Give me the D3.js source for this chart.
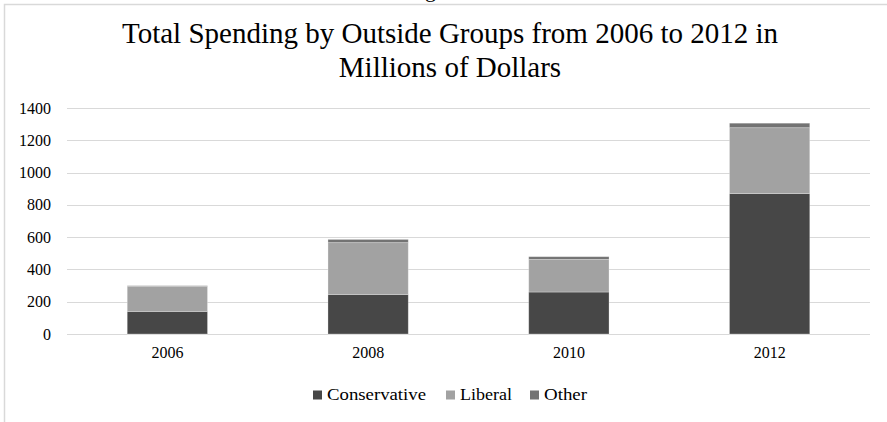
<!DOCTYPE html>
<html>
<head>
<meta charset="utf-8">
<script src="https://cdn.jsdelivr.net/npm/d3@7"></script>
<style>
  html, body { margin: 0; padding: 0; background: #fff; }
  svg { display: block; }
  text { font-family: "Liberation Serif", "Times New Roman", serif; fill: #000; }
</style>
</head>
<body>
<svg id="chart" width="887" height="422"></svg>
<script>
// Spending by outside groups, millions of dollars
const years = ["2006", "2008", "2010", "2012"];
const conservative = [140, 245, 260, 870];
const liberal = [155, 321, 202, 408];
const other = [4, 20, 17, 28];
const seriesNames = ["Conservative", "Liberal", "Other"];
const seriesColors = ["#474747", "#a2a2a2", "#737373"];
const yTicks = [0, 200, 400, 600, 800, 1000, 1200, 1400];
const titleLines = ["Total Spending by Outside Groups from 2006 to 2012 in", "Millions of Dollars"];

const SERIF = "'Liberation Serif', 'Times New Roman', serif";
const svg = d3.select("#chart");
const W = 887, H = 422;
const plot = { left: 67, right: 870, top: 108, bottom: 334 };

// chart frame (runs past the window on the right and bottom)
svg.append("rect")
  .attr("x", 4.5).attr("y", 4.5)
  .attr("width", W + 20).attr("height", H + 20)
  .attr("fill", "#fff").attr("stroke", "#d9d9d9").attr("stroke-width", 1.5);

// tail of the caption line sitting above the frame
svg.append("text").attr("x", 425).attr("y", -3)
  .style("font-family", SERIF).style("font-size", "22px").text("g");

// title
svg.selectAll("text.title").data(titleLines).join("text")
  .attr("class", "title")
  .attr("x", 450).attr("y", (d, i) => 43 + i * 34)
  .attr("text-anchor", "middle")
  .style("font-family", SERIF)
  .style("font-size", "29px")
  .text(d => d);

const x = d3.scaleBand().domain(years)
  .range([plot.left, plot.right]).paddingInner(0.6).paddingOuter(0.3);
const y = d3.scaleLinear().domain([0, 1400]).range([plot.bottom, plot.top]);

// gridlines
svg.append("g").selectAll("line").data(yTicks).join("line")
  .attr("x1", plot.left).attr("x2", plot.right)
  .attr("y1", d => Math.round(y(d)) + 0.5).attr("y2", d => Math.round(y(d)) + 0.5)
  .attr("stroke", "#d9d9d9").attr("stroke-width", 1.2);

// y axis labels
const yAxis = d3.axisLeft(y).tickValues(yTicks).tickFormat(d3.format("d")).tickSize(0).tickPadding(0);
const yg = svg.append("g").attr("transform", `translate(${plot.left - 16},0)`).call(yAxis);
yg.select(".domain").remove();
yg.selectAll("text").style("font-size", "16px")
  .style("font-family", SERIF).attr("fill", "#000");

// x axis labels
const xAxis = d3.axisBottom(x).tickSize(0).tickPadding(0);
const xg = svg.append("g").attr("transform", `translate(0,${plot.bottom + 13})`).call(xAxis);
xg.select(".domain").remove();
xg.selectAll("text").style("font-size", "16px")
  .style("font-family", SERIF).attr("fill", "#000");

// stacked bars
const rows = years.map((yr, i) => ({ year: yr, Conservative: conservative[i], Liberal: liberal[i], Other: other[i] }));
const stack = d3.stack().keys(seriesNames)(rows);
svg.append("g").selectAll("g").data(stack).join("g")
  .attr("fill", (d, i) => seriesColors[i])
  .selectAll("rect").data(d => d).join("rect")
  .attr("x", d => x(d.data.year))
  .attr("width", x.bandwidth())
  .attr("y", d => y(d[1]))
  .attr("height", d => y(d[0]) - y(d[1]))
  .attr("stroke", "rgba(255,255,255,0.35)").attr("stroke-width", 0.8);

// legend
const legendItems = [
  { name: "Conservative", x: 313, w: 99 },
  { name: "Liberal", x: 446, w: 52 },
  { name: "Other", x: 530, w: 43 }
];
const lg = svg.append("g");
legendItems.forEach((it, i) => {
  lg.append("rect").attr("x", it.x).attr("y", 390.5).attr("width", 9).attr("height", 9)
    .attr("fill", seriesColors[i]);
  lg.append("text").attr("x", it.x + 14).attr("y", 399.5)
    .attr("textLength", it.w).attr("lengthAdjust", "spacingAndGlyphs")
    .style("font-family", SERIF)
    .style("font-size", "16px").text(it.name);
});
</script>
</body>
</html>
